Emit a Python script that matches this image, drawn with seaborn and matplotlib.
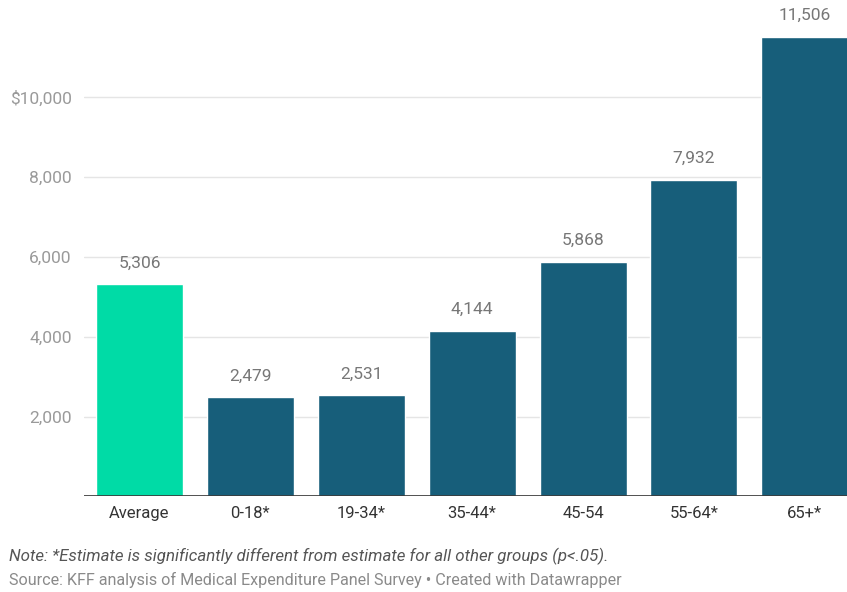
import matplotlib
matplotlib.use('Agg')
import matplotlib.pyplot as plt
import pandas as pd
import seaborn as sns

# Chart data
groups = ['Average', '0-18*', '19-34*', '35-44*', '45-54', '55-64*', '65+*']
spending = [5306, 2479, 2531, 4144, 5868, 7932, 11506]
y_ticks = [2000, 4000, 6000, 8000, 10000]
y_tick_labels = ['2,000', '4,000', '6,000', '8,000', '$10,000']

df = pd.DataFrame({'group': groups, 'spending': spending})

sns.set_style('white')
plt.rcParams['font.family'] = ['Roboto', 'DejaVu Sans']

fig = plt.figure(figsize=(8.47, 5.92), dpi=100)
ax = fig.add_axes([0.0992, 0.1615, 0.9008, 0.8385])

palette = ['#00dba6'] + ['#175e7a'] * (len(groups) - 1)
sns.barplot(data=df, x='group', y='spending', hue='group', palette=palette,
            legend=False, width=0.785, saturation=1, ax=ax, zorder=3)

ax.set_xlim(-0.5, 6.38)
ax.set_ylim(0, 12430)

# gridlines
for t in y_ticks:
    ax.axhline(t, color='#e5e5e5', lw=1, zorder=1)
ax.axhline(0, color='#333333', lw=1.2, zorder=4)

ax.set_yticks(y_ticks)
ax.set_yticklabels(y_tick_labels)
ax.tick_params(axis='y', length=0, pad=9, labelsize=12.5, labelcolor='#9a9a9a')
ax.tick_params(axis='x', length=0, pad=7, labelsize=12, labelcolor='#333333')
ax.set_xlabel('')
ax.set_ylabel('')
for s in ax.spines.values():
    s.set_visible(False)

# value labels
for i, v in enumerate(spending):
    ax.annotate(f'{v:,}', (i, v), xytext=(0, 10), textcoords='offset points',
                ha='center', va='bottom', fontsize=12.5, color='#777777',
                annotation_clip=False)

fig.text(0.011, 0.061, 'Note: *Estimate is significantly different from estimate for all other groups (p<.05).',
         fontsize=12.2, style='italic', color='#555555', ha='left', va='center')
fig.text(0.011, 0.021, 'Source: KFF analysis of Medical Expenditure Panel Survey \u2022 Created with Datawrapper',
         fontsize=11.6, color='#8a8a8a', ha='left', va='center')

fig.savefig('out.png', dpi=100)
